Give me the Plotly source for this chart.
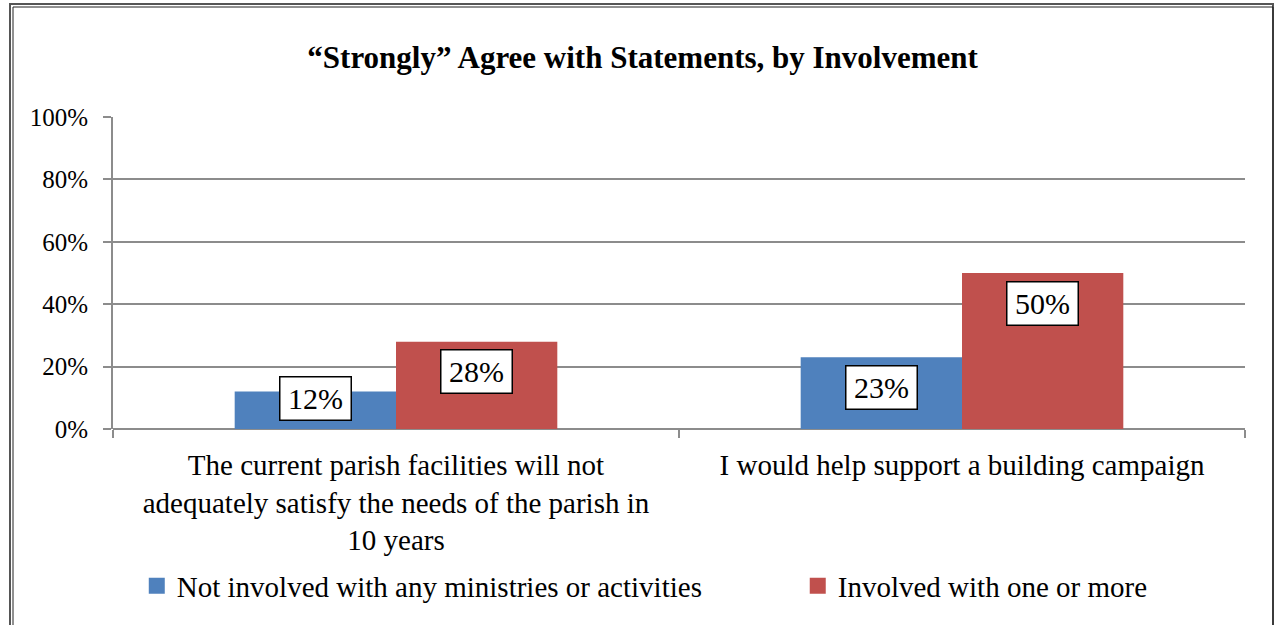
import plotly.graph_objects as go

# Survey results: share answering "Strongly" agree, by involvement level
categories = [
    "The current parish facilities will not<br>adequately satisfy the needs of the parish in<br>10 years",
    "I would help support a building campaign",
]
not_involved = [0.12, 0.23]
involved = [0.28, 0.50]
series_names = ["Not involved with any ministries or activities", "Involved with one or more"]
series_colors = ["#4F81BD", "#C0504D"]
y_ticks = [0, 0.2, 0.4, 0.6, 0.8, 1.0]
title_text = "“Strongly” Agree with Statements, by Involvement"

FONT = "Liberation Serif"
GRID = "#8C8C8C"

# plot-area geometry (pixels)
W, H = 1275, 625
M_L, M_R, M_T, M_B = 113, 30, 117, 196
PLOT_H = H - M_T - M_B
BARGAP = 0.43

fig = go.Figure()
for name, vals, color in zip(series_names, [not_involved, involved], series_colors):
    fig.add_trace(go.Bar(
        x=list(range(len(categories))), y=vals, name=name,
        marker=dict(color=color, line=dict(width=0)),
        hoverinfo="skip", showlegend=False,
    ))

# legend swatches: one square per series, each in its own legend box
legend_ids = ["legend", "legend2"]
for name, color, lid in zip(series_names, series_colors, legend_ids):
    fig.add_trace(go.Scatter(
        x=[None], y=[None], mode="markers", name=name, legend=lid,
        marker=dict(symbol="square", size=16, color=color, line=dict(width=0)),
        hoverinfo="skip", showlegend=True,
    ))

# boxed value labels at the inside end of each bar
bar_w = (1 - BARGAP) / 2
box_h = 44
for s, vals in enumerate([not_involved, involved]):
    for i, v in enumerate(vals):
        xc = i + (s - 0.5) * bar_w
        if v * PLOT_H < box_h + 16:
            pos = dict(y=0, yanchor="bottom", yshift=8)
        else:
            pos = dict(y=v, yanchor="top", yshift=-7.5)
        fig.add_annotation(
            x=xc, xref="x", yref="y", text=f"{round(v * 100)}%",
            showarrow=False, xanchor="center",
            font=dict(family=FONT, size=30, color="#000"),
            bgcolor="#FFFFFF", bordercolor="#000000", borderwidth=1.5,
            borderpad=2, width=66, height=38, **pos,
        )

# double frame around the chart
frame = [(-103, 425, 1160, -215, "#555555", 2), (-100, 422, 1160, -215, "#222222", 1)]
for x0, y0, x1, y1, c, w in frame:
    fig.add_shape(type="rect", xref="paper", yref="paper", xsizemode="pixel",
                  ysizemode="pixel", xanchor=0, yanchor=0,
                  x0=x0, x1=x1, y0=y0, y1=y1, line=dict(color=c, width=w),
                  fillcolor="rgba(0,0,0,0)", layer="above")

legend_style = dict(orientation="h", xanchor="left", y=-0.503, yanchor="middle",
                    font=dict(family=FONT, size=29, color="#000"),
                    itemsizing="trace", bgcolor="rgba(0,0,0,0)")

fig.update_layout(
    width=W, height=H,
    margin=dict(l=M_L, r=M_R, t=M_T, b=M_B, autoexpand=False),
    paper_bgcolor="#FFFFFF", plot_bgcolor="#FFFFFF",
    barmode="group", bargap=BARGAP, bargroupgap=0,
    title=dict(text=f"<b>{title_text}</b>", x=0.504, xanchor="center",
               y=1 - 57 / H, yanchor="middle",
               font=dict(family=FONT, size=31, color="#000")),
    font=dict(family=FONT, color="#000"),
    showlegend=True,
    legend=dict(x=0.021, **legend_style),
    legend2=dict(x=0.6049, **legend_style),
    xaxis=dict(
        range=[-0.5, len(categories) - 0.5],
        tickvals=list(range(len(categories))), ticktext=categories,
        ticks="", showgrid=False, zeroline=False, automargin=False,
        showline=False, tickfont=dict(family=FONT, size=29, color="#000"),
        ticklabelstandoff=16,
        minor=dict(tickvals=[-0.5, 0.5, 1.5], ticks="outside", ticklen=8,
                   tickwidth=2, tickcolor=GRID, showgrid=False),
        fixedrange=True,
    ),
    yaxis=dict(
        range=[0, 1], tickvals=y_ticks, tickformat=".0%",
        ticks="outside", ticklen=8, tickwidth=2, tickcolor=GRID,
        showgrid=True, gridcolor=GRID, gridwidth=2,
        showline=True, linecolor=GRID, linewidth=2,
        zeroline=True, zerolinecolor=GRID, zerolinewidth=2,
        tickfont=dict(family=FONT, size=25, color="#000"),
        ticklabelstandoff=10, automargin=False, fixedrange=True,
    ),
)

fig.write_html("out.html")
